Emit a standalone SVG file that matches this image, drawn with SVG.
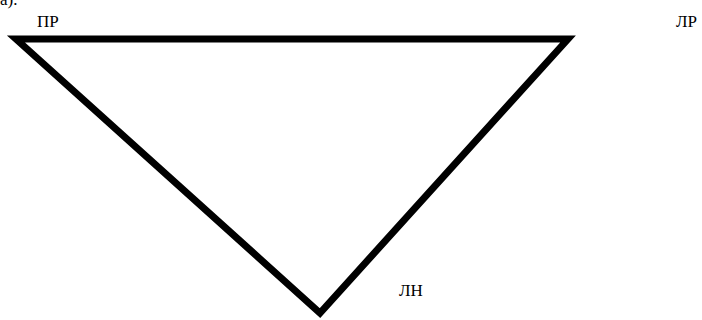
<svg xmlns="http://www.w3.org/2000/svg" width="702" height="320" viewBox="0 0 702 320">
<style>
.lbl{font-family:"Liberation Serif","Times New Roman",serif;font-size:17px;fill:#000}
.edge{fill:none;stroke:#000;stroke-width:7;stroke-linejoin:miter;stroke-linecap:butt}
</style>
<rect width="702" height="320" fill="#fff"/>
<text class="lbl" x="0" y="5">а).</text>
<g id="connectors">
<polygon class="edge" points="16,39 568,39 320,313"/>
</g>
<g id="node-PR"><text class="lbl" x="37" y="27">ПР</text></g>
<g id="node-LR"><text class="lbl" x="676" y="27">ЛР</text></g>
<g id="node-LN"><text class="lbl" x="399" y="296">ЛН</text></g>
</svg>
